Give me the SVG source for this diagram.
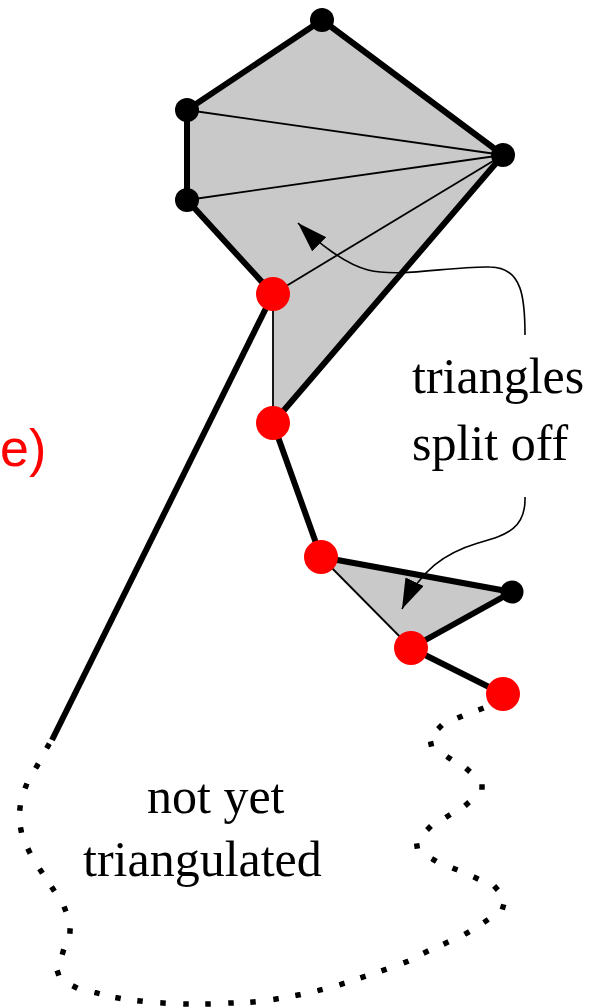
<svg xmlns="http://www.w3.org/2000/svg" width="589" height="1008" viewBox="0 0 589 1008">
<style>
.fill{fill:#c9c9c9;stroke:none}
.thick{stroke:#000;stroke-width:6;stroke-linecap:round;fill:none}
.thin{stroke:#000;stroke-width:1.8;fill:none}
.arrow{stroke:#000;stroke-width:1.6;fill:none}
.bv{fill:#000}
.rv{fill:#ff0000}
.lbl{font-family:"Liberation Serif","Times New Roman",serif;font-size:50px;fill:#000}
.tag{font-family:"Liberation Sans",Arial,sans-serif;font-size:52px;fill:#ff0000}
</style>
<defs>
<marker id="head" markerUnits="userSpaceOnUse" markerWidth="32" markerHeight="22" refX="30" refY="10" orient="auto">
<path d="M0,0 L30,10 L0,20 z" fill="#000"/>
</marker>
<marker id="dot" markerUnits="userSpaceOnUse" markerWidth="8" markerHeight="8" refX="3" refY="3" orient="auto">
<rect x="0.25" y="0.25" width="5.5" height="5.5" fill="#000"/>
</marker>
</defs>
<g id="fills">
<polygon class="fill" points="322,20 503,155 273,423 273,294 187,200 187,110"/>
<polygon class="fill" points="321,557 512,592 411,648"/>
</g>
<g id="connectors">
<line class="thin" x1="503" y1="155" x2="187" y2="110"/>
<line class="thin" x1="503" y1="155" x2="187" y2="200"/>
<line class="thin" x1="503" y1="155" x2="273" y2="294"/>
<line class="thin" x1="273" y1="294" x2="273" y2="423"/>
<line class="thin" x1="321" y1="557" x2="411" y2="648"/>
<line class="thick" x1="322" y1="20" x2="503" y2="155"/>
<line class="thick" x1="322" y1="20" x2="187" y2="110"/>
<line class="thick" x1="187" y1="110" x2="187" y2="200"/>
<line class="thick" x1="187" y1="200" x2="273" y2="294"/>
<line class="thick" x1="503" y1="155" x2="273" y2="423"/>
<line class="thick" x1="273" y1="423" x2="321" y2="557"/>
<line class="thick" x1="321" y1="557" x2="512" y2="592"/>
<line class="thick" x1="512" y1="592" x2="411" y2="648"/>
<line class="thick" x1="411" y1="648" x2="503" y2="694"/>
<line class="thick" x1="273" y1="294" x2="52" y2="740" style="stroke-linecap:butt"/>
<polyline fill="none" stroke="none" marker-start="url(#dot)" marker-mid="url(#dot)" marker-end="url(#dot)" points="48,746 37,766 26,786 20,808 21,830 29,851 41,871 53,889 65,909 70,931 63,952 58,973 75,987 97,993 118,998 140,1001 163,1003 186,1004 208,1004 231,1003 253,1002 276,999 298,995 320,990 342,984 363,977 384,970 406,962 426,952 446,943 467,933 486,921 503,907 496,888 476,878 455,869 434,860 417,846 429,828 448,816 467,804 482,787 468,770 449,758 431,744 440,727 460,717 481,709"/>
<path class="arrow" marker-end="url(#head)" d="M525,335 C525,300 523,267 490,267 C450,266 400,278 368,270 C345,264 318,243 298,223"/>
<path class="arrow" marker-end="url(#head)" d="M525,497 C526,530 505,535 478,543 C445,553 420,570 402,609"/>
</g>
<g id="v-top"><circle class="bv" cx="322" cy="20" r="12"/></g>
<g id="v-leftupper"><circle class="bv" cx="187" cy="110" r="12"/></g>
<g id="v-leftlower"><circle class="bv" cx="187" cy="200" r="12"/></g>
<g id="v-right"><circle class="bv" cx="503" cy="155" r="12"/></g>
<g id="v-small"><circle class="bv" cx="512" cy="592" r="11.5"/></g>
<g id="r1"><circle class="rv" cx="273" cy="294" r="17"/></g>
<g id="r2"><circle class="rv" cx="273" cy="423" r="17"/></g>
<g id="r3"><circle class="rv" cx="321" cy="557" r="17"/></g>
<g id="r4"><circle class="rv" cx="411" cy="648" r="17"/></g>
<g id="r5"><circle class="rv" cx="503" cy="694" r="17"/></g>
<g id="label-split">
<text class="lbl" x="412" y="393">triangles</text>
<text class="lbl" x="412" y="460">split off</text>
</g>
<g id="label-not">
<text class="lbl" x="147" y="813">not yet</text>
<text class="lbl" x="83" y="876">triangulated</text>
</g>
<g id="label-e"><text class="tag" x="0" y="466">e)</text></g>
</svg>
